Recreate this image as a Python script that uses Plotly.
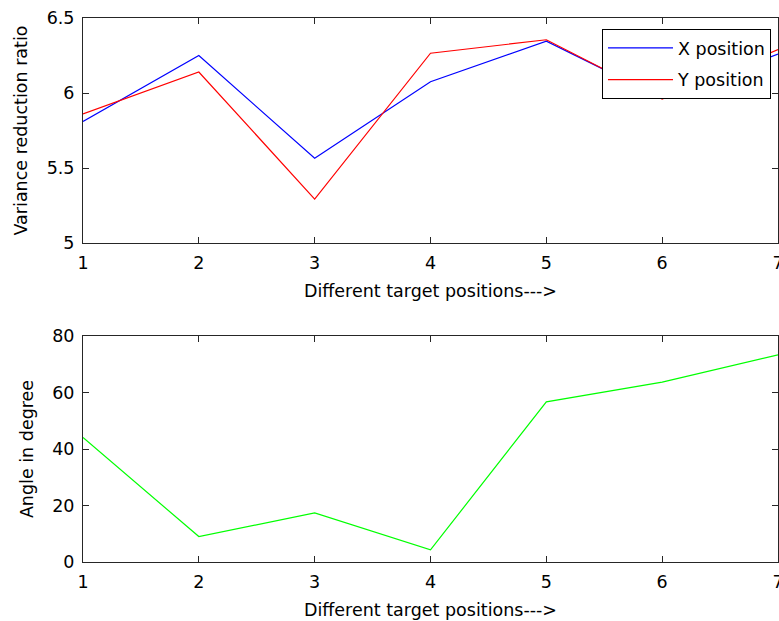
import plotly.graph_objects as go
from plotly.subplots import make_subplots

# Target positions along the x axis
positions = [1, 2, 3, 4, 5, 6, 7]

# Variance reduction ratio per target position
x_ratio = [5.81, 6.25, 5.565, 6.075, 6.345, 5.965, 6.26]
y_ratio = [5.86, 6.14, 5.293, 6.265, 6.355, 5.96, 6.29]

# Angle (degrees) per target position
angle_deg = [44.1, 9.0, 17.4, 4.3, 56.7, 63.7, 73.3]

top_ticks = [5, 5.5, 6, 6.5]
top_tick_text = ["5", "5.5", "6", "6.5"]
bottom_ticks = [0, 20, 40, 60, 80]
x_ticks = [1, 2, 3, 4, 5, 6, 7]

FONT = "DejaVu Sans"
FS = 17.5

W, H = 779, 621
ML, MR, MT, MB = 83, 1, 18, 59
plot_h = H - MT - MB

fig = make_subplots(rows=2, cols=1, vertical_spacing=0.0)

fig.add_trace(go.Scatter(x=positions, y=x_ratio, mode="lines", name="X position",
                         line=dict(color="#0000ff", width=1.2), legendgroup="a"),
              row=1, col=1)
fig.add_trace(go.Scatter(x=positions, y=y_ratio, mode="lines", name="Y position",
                         line=dict(color="#ff0000", width=1.2), legendgroup="b"),
              row=1, col=1)
fig.add_trace(go.Scatter(x=positions, y=angle_deg, mode="lines", showlegend=False,
                         line=dict(color="#00ff00", width=1.2)),
              row=2, col=1)

axis_common = dict(
    showline=True, linecolor="#262626", linewidth=1, mirror="ticks",
    ticks="inside", ticklen=6, tickcolor="#262626", tickwidth=1,
    showgrid=False, zeroline=False,
    tickfont=dict(family=FONT, size=FS, color="#000000"),
    title_font=dict(family=FONT, size=FS, color="#000000"),
)

# vertical domains in paper coordinates
top_dom = [(H - MB - 243) / plot_h, 1.0]
bot_dom = [0.0, (H - MB - 336) / plot_h]

fig.update_xaxes(**axis_common, range=[1, 7], tickvals=x_ticks,
                 ticklabelstandoff=4, ticklabeloverflow="allow",
                 title_text="Different target positions--->", title_standoff=12)
fig.update_yaxes(**axis_common, ticklabelstandoff=4, title_standoff=14)

fig.update_yaxes(range=[5, 6.5], tickvals=top_ticks, ticktext=top_tick_text,
                 title_text="Variance reduction ratio", domain=top_dom, row=1, col=1)
fig.update_yaxes(range=[0, 80], tickvals=bottom_ticks,
                 title_text="Angle in degree", domain=bot_dom, row=2, col=1)

fig.update_layout(
    width=W, height=H,
    margin=dict(l=ML, r=MR, t=MT, b=MB, autoexpand=False),
    paper_bgcolor="white", plot_bgcolor="white",
    font=dict(family=FONT, size=FS, color="#000000"),
    legend=dict(
        x=(771 - ML) / (W - ML - MR), xanchor="right",
        y=(H - MB - 29) / plot_h, yanchor="top",
        bgcolor="white", bordercolor="#000000", borderwidth=1,
        font=dict(family=FONT, size=FS, color="#000000"),
        itemwidth=65, tracegroupgap=6, traceorder="grouped",
    ),
    showlegend=True,
)

fig.write_html("out.html")
